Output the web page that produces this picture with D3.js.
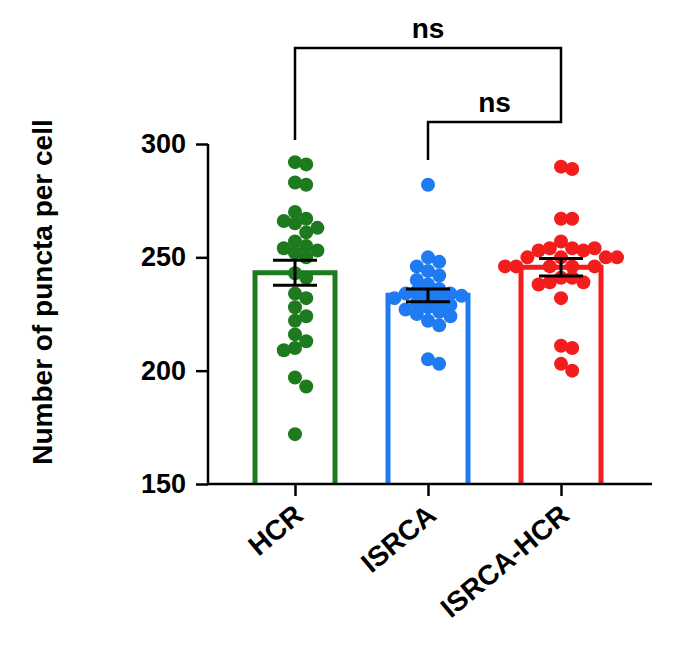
<!DOCTYPE html>
<html><head><meta charset="utf-8">
<script src="https://cdn.jsdelivr.net/npm/d3@7"></script>
<style>body{margin:0;background:#fff}text{font-family:Arial,"Liberation Sans",sans-serif;font-weight:bold}</style>
</head><body><svg id="c" width="676" height="658"></svg>
<script>
const categories = ["HCR", "ISRCA", "ISRCA-HCR"];
const colors = ["#1e7a1e", "#1f7bf2", "#f41d1d"];
const hcr = [291, 292, 282, 283, 270, 263, 266, 267, 265, 261, 254, 255, 257, 252, 253, 250, 243, 241, 232, 234, 228, 222, 224, 213, 216, 209, 210, 193, 197, 172];
const isrca = [282, 250, 248, 246, 244, 242, 240, 238, 236, 235, 234, 234, 233, 233, 232, 231, 230, 229, 228, 227, 226, 225, 224, 222, 220, 205, 203];
const isrcaHcr = [290, 289, 267, 267, 257, 254, 254, 254, 253, 253, 250, 250, 250, 250, 246, 246, 246, 246, 246, 241, 241, 239, 239, 238, 232, 211, 210, 203, 200];
const series = [hcr, isrca, isrcaHcr];
const yTicks = [150, 200, 250, 300];

const svg = d3.select("#c");
const x = d3.scalePoint().domain(categories).range([295, 561]);
const y = d3.scaleLinear().domain([150, 300]).range([484, 144]);
const bw = 80, r = 7;

series.forEach((vals, i) => {
  const m = d3.mean(vals);
  const sem = d3.deviation(vals) / Math.sqrt(vals.length);
  const cx = x(categories[i]);
  svg.append("path").attr("d", `M${cx-bw/2},${y(150)}V${y(m)}H${cx+bw/2}V${y(150)}`)
    .attr("fill", "none").attr("stroke", colors[i]).attr("stroke-width", 5);
  // swarm
  const placed = [];
  vals.slice().sort((a, b) => b - a).forEach(v => {
    const py = y(v);
    for (let k = 0; k < 40; k++) {
      const off = (k % 2 ? 1 : -1) * Math.ceil(k / 2) * r * 0.8 * 2;
      const px = cx + (k === 0 ? 0 : off);
      if (placed.every(p => Math.hypot(p[0]-px, p[1]-py) >= 2*r*0.8)) { placed.push([px, py]); break; }
    }
  });
  svg.append("g").selectAll("circle").data(placed).join("circle")
    .attr("cx", d => d[0]).attr("cy", d => d[1]).attr("r", r).attr("fill", colors[i]);
  const g = svg.append("g").attr("stroke", "#000").attr("stroke-width", 3);
  g.append("line").attr("x1", cx).attr("x2", cx).attr("y1", y(m+sem)).attr("y2", y(m-sem));
  [m+sem, m-sem].forEach(v => g.append("line").attr("x1", cx-22).attr("x2", cx+22).attr("y1", y(v)).attr("y2", y(v)));
});

const ya = svg.append("g").attr("transform", "translate(208,0)")
  .call(d3.axisLeft(y).tickValues(yTicks).tickSize(12).tickPadding(10));
ya.selectAll("text").attr("font-size", 27).attr("font-family", "Arial").attr("fill", "#000");
svg.append("g").attr("transform", `translate(0,${y(150)})`)
  .call(d3.axisBottom(x).tickSize(12).tickFormat(""));
svg.selectAll(".domain").remove();
svg.append("line").attr("x1", 208).attr("x2", 208).attr("y1", 144).attr("y2", 484).attr("stroke", "#000").attr("stroke-width", 2.5);
svg.append("line").attr("x1", 208).attr("x2", 652).attr("y1", 484).attr("y2", 484).attr("stroke", "#000").attr("stroke-width", 2.5);
svg.selectAll(".tick line").attr("stroke-width", 2.5);
categories.forEach(c => {
  svg.append("text").attr("transform", `translate(${x(c)+10},${y(150)+34}) rotate(-40)`)
    .attr("text-anchor", "end").attr("font-size", 28).text(c);
});
svg.append("text").attr("transform", "translate(52,292) rotate(-90)").attr("text-anchor", "middle")
  .attr("font-size", 28).text("Number of  puncta per cell");

const bracket = (a, b, top, ya1, yb1, label) => {
  svg.append("path").attr("d", `M${x(a)},${ya1}V${top}H${x(b)}V${yb1}`)
    .attr("fill", "none").attr("stroke", "#000").attr("stroke-width", 2.5);
  svg.append("text").attr("x", (x(a)+x(b))/2).attr("y", top-10).attr("text-anchor", "middle")
    .attr("font-size", 28).text(label);
};
bracket("HCR", "ISRCA-HCR", 48, 140, 100, "ns");
bracket("ISRCA", "ISRCA-HCR", 122, 160, 100, "ns");
</script></body></html>
